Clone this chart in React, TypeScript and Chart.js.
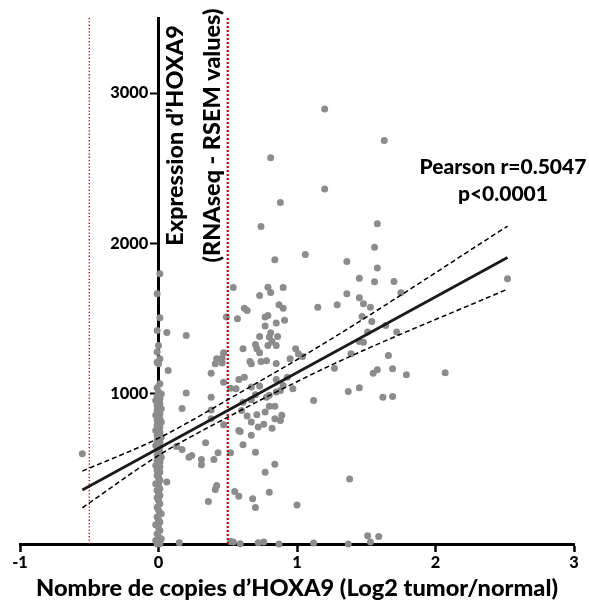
import React, { useEffect, useRef } from 'react';
import { Chart, registerables } from 'chart.js';

Chart.register(...registerables);

// ---------- data ----------
const scatterX = [
  1.20, 1.63, 0.81, 1.20, 0.88, 1.58, 0.74, 1.56, 1.06, 0.84, 1.36, 1.58, 1.45, 1.56, 1.70, 2.52,
  0.54, 0.79, 0.81, 0.73, 0.90, 1.36, 1.45, 1.75, 1.29, 1.48, 1.53, 1.15, 0.87, 0.90, 0.62, 0.64,
  1.47, 1.54, 1.64, 0.49, 0.57, 0.77, 0.79, 0.85, 0.91, 0.77, 1.51, 1.72, 0.81, 0.73, 0.86, 0.80,
  0.82, 1.45, 1.48, 0.79, 0.85, 0.70, 0.71, 0.61, 0.99, 0.73, 1.01, 1.04, 0.95, 1.39, 1.66, 0.47,
  0.46, 0.42, 0.41, 0.46, 0.66, 0.67, 0.74, 0.78, 0.85, 1.27, 1.55, 1.58, 1.69, 1.79, 2.07, 0.38,
  0.47, 0.58, 0.62, 0.85, 0.93, 0.52, 0.56, 0.67, 0.73, 0.90, 0.97, 1.45, 1.37, 1.62, 1.69, 1.12,
  0.20, 0.38, 0.17, 0.38, 0.38, 0.47, 0.61, 0.67, 0.70, 0.78, 0.80, 0.85, 0.88, 0.60, 0.64, 0.71,
  0.77, 0.80, 0.84, 0.84, 0.88, 0.89, 0.67, 0.72, 0.76, 0.82, 0.58, 0.59, 0.67, 0.34, 0.13, 0.17,
  0.61, 0.43, 0.52, 0.70, 0.24, 0.22, 0.40, 0.31, 0.31, 0.84, 0.77, 0.06, 0.42, 0.41, 0.55, 0.58,
  0.80, 0.68, 0.70, 0.36, 1.00, 1.38, 0.15, 0.52, 0.54, 0.59, 0.72, 0.76, 0.87, 1.12, 1.37, 1.51,
  1.59, 1.53, -0.55, 0.20, 0.06, 0.07,
  // column at zero copy-number change
  0.01, -0.01, 0.01, -0.01, 0.00, -0.01, 0.01, -0.01, 0.00, 0.01, -0.01, 0.00, 0.02, -0.01, 0.00, 0.01,
  -0.02, 0.00, 0.01, -0.01, 0.00, 0.02, -0.01, 0.00, 0.01, -0.02, 0.00, 0.01, -0.01, 0.02, 0.00, -0.01,
  0.01, 0.00, -0.02, 0.01, 0.00, -0.01, 0.02, 0.00, -0.01, 0.01, 0.00, -0.02, 0.01, 0.00, -0.01, 0.01,
  0.00, -0.01, 0.02, 0.00, -0.01, 0.01, 0.00, -0.02, 0.01, 0.00, -0.01, 0.01, 0.00, -0.01, 0.00, 0.01,
  -0.02, 0.00, 0.01, -0.01, 0.00, 0.01, -0.01, 0.00, 0.01, -0.01, 0.00, 0.02, -0.01, 0.00, 0.01, -0.02,
  0.00, 0.01, -0.01, 0.00, 0.02, -0.02, 0.00, 0.01, -0.01,
];
const scatterY = [
  2895, 2685, 2570, 2362, 2272, 2131, 2112, 1975, 1927, 1892, 1880, 1836, 1769, 1745, 1747, 1765,
  1707, 1709, 1674, 1654, 1706, 1665, 1639, 1672, 1592, 1599, 1576, 1576, 1592, 1569, 1569, 1554,
  1514, 1481, 1454, 1510, 1499, 1510, 1521, 1470, 1488, 1450, 1410, 1410, 1406, 1381, 1381, 1377,
  1348, 1348, 1343, 1321, 1321, 1328, 1299, 1299, 1299, 1273, 1266, 1248, 1233, 1266, 1255, 1273,
  1237, 1233, 1200, 1204, 1215, 1200, 1215, 1219, 1201, 1170, 1137, 1160, 1166, 1126, 1140, 1137,
  1077, 1095, 1110, 1095, 1110, 1037, 1033, 1044, 1051, 1055, 1033, 1040, 1015, 977, 982, 955,
  1004, 977, 902, 891, 834, 794, 944, 960, 993, 977, 989, 1011, 1022, 889, 851, 860,
  878, 917, 917, 834, 822, 856, 811, 778, 796, 771, 756, 749, 723, 674, 649, 629,
  661, 607, 607, 611, 589, 578, 563, 563, 528, 530, 478, 412, 390, 363, 350, 317,
  345, 301, 243, 283, 259, 432, 9, 17, 13, 2, 9, 13, 0, 6, 0, 55,
  50, 13, 601, 1388, 1408, 1155,
  1798, 1665, 1506, 1421, 1321, 1277, 1233, 1210, 1200, 1066, 1040, 1012, 998, 985, 977, 967,
  955, 944, 933, 922, 911, 900, 889, 878, 867, 856, 844, 833, 822, 811, 800, 789,
  778, 766, 755, 744, 733, 722, 711, 700, 689, 678, 667, 656, 645, 634, 623, 612,
  601, 590, 578, 567, 556, 545, 534, 523, 512, 501, 490, 479, 468, 455, 440, 425,
  401, 390, 368, 357, 340, 323, 307, 290, 268, 245, 224, 202, 179, 160, 146, 128,
  112, 90, 69, 46, 35, 24, 12, 2, 0,
];
const fitX = [-0.55, 2.52];
const fitY = [360, 1907];
const bandX = [-0.55, 0, 0.5, 1.27, 2.52];
const bandUpper = [485, 704, 960, 1377, 2115];
const bandLower = [241, 589, 844, 1200, 1696];
const cutoffLeft = -0.5;
const cutoffRight = 0.5;
const xTicks = [-1, 0, 1, 2, 3];
const yTicks = [1000, 2000, 3000];
const xRange = [-1, 3];
const yRange = [0, 3500];
const xTitle = 'Nombre de copies d’HOXA9 (Log2 tumor/normal)';
const yTitleLines = ['Expression d’HOXA9', '(RNAseq - RSEM values)'];
const statLines = ['Pearson r=0.5047', 'p<0.0001'];

// ---------- style ----------
const FAMILY = "Lato, 'Open Sans', sans-serif";
const POINT_COLOR = '#8c8c8c';

function fitSize(text: string, target: number): number {
  const c = document.createElement('canvas').getContext('2d')!;
  c.font = `900 100px ${FAMILY}`;
  const w = c.measureText(text).width;
  return (100 * target) / w;
}

export default function App() {
  const ref = useRef<HTMLCanvasElement>(null);

  useEffect(() => {
    if (!ref.current) return;
    const xTitleSize = fitSize(xTitle, 522);
    const yTitleSize = fitSize(yTitleLines[1], 254);
    const statSize = fitSize(statLines[0], 167);
    const tickSize = fitSize('3000', 38);

    const textPlugin = {
      id: 'texts',
      afterDraw(chart: any) {
        const { ctx, scales } = chart;
        const sx = scales.x;
        const sy = scales.y;
        ctx.save();
        ctx.fillStyle = '#000';
        ctx.textAlign = 'center';
        ctx.textBaseline = 'middle';
        // rotated y title next to the axis
        ctx.font = `900 ${yTitleSize}px ${FAMILY}`;
        const yPos = [0.126, 0.386];
        yTitleLines.forEach((line, i) => {
          ctx.save();
          ctx.translate(sx.getPixelForValue(yPos[i]), sy.getPixelForValue(2718));
          ctx.rotate(-Math.PI / 2);
          ctx.fillText(line, 0, 0);
          ctx.restore();
        });
        // statistics
        ctx.font = `900 ${statSize}px ${FAMILY}`;
        const sPos = [2506, 2326];
        statLines.forEach((line, i) => {
          ctx.fillText(line, sx.getPixelForValue(2.487), sy.getPixelForValue(sPos[i]));
        });
        ctx.restore();
      },
    };

    const pts = scatterX.map((x, i) => ({ x, y: scatterY[i] }));
    const line = (xs: number[], ys: number[]) => xs.map((x, i) => ({ x, y: ys[i] }));

    const chart = new Chart(ref.current, {
      type: 'scatter',
      data: {
        datasets: [
          {
            data: line(fitX, fitY),
            showLine: true,
            borderColor: '#1a1a1a',
            borderWidth: 2.8,
            pointRadius: 0,
          },
          {
            data: line(bandX, bandUpper),
            showLine: true,
            borderColor: '#000',
            borderWidth: 1.5,
            borderDash: [5, 3],
            pointRadius: 0,
            cubicInterpolationMode: 'monotone',
          },
          {
            data: line(bandX, bandLower),
            showLine: true,
            borderColor: '#000',
            borderWidth: 1.5,
            borderDash: [5, 3],
            pointRadius: 0,
            cubicInterpolationMode: 'monotone',
          },
          {
            data: [{ x: cutoffLeft, y: yRange[0] }, { x: cutoffLeft, y: yRange[1] }],
            showLine: true,
            borderColor: '#8b1a1a',
            borderWidth: 1.3,
            borderDash: [1.3, 2],
            pointRadius: 0,
          },
          {
            data: [{ x: cutoffRight, y: yRange[0] }, { x: cutoffRight, y: yRange[1] }],
            showLine: true,
            borderColor: '#a81010',
            borderWidth: 2.2,
            borderDash: [2, 2],
            pointRadius: 0,
          },
          {
            data: pts,
            backgroundColor: POINT_COLOR,
            borderWidth: 0,
            pointRadius: 3.5,
            clip: false,
          } as any,
        ],
      },
      options: {
        animation: false,
        responsive: false,
        maintainAspectRatio: false,
        layout: { padding: { left: 20, right: 15, top: 18, bottom: 0 } },
        plugins: { legend: { display: false }, tooltip: { enabled: false } },
        scales: {
          x: {
            type: 'linear',
            min: xRange[0],
            max: xRange[1],
            position: 'bottom',
            afterBuildTicks: (s: any) => {
              s.ticks = xTicks.map((v) => ({ value: v }));
            },
            afterFit: (s: any) => {
              s.height = 63;
            },
            grid: {
              display: true,
              drawOnChartArea: false,
              drawTicks: true,
              tickLength: 8,
              tickWidth: 2.5,
              tickColor: '#000',
            },
            border: { display: true, width: 3, color: '#000' },
            ticks: {
              color: '#000',
              font: { family: FAMILY, weight: '900', size: tickSize },
              padding: 1,
              maxRotation: 0,
              autoSkip: false,
              callback: (v: any) => String(v),
            },
            title: {
              display: true,
              text: xTitle,
              color: '#000',
              font: { family: FAMILY, weight: '900', size: xTitleSize },
              padding: { top: 0, bottom: 4 },
            },
          },
          y: {
            type: 'linear',
            min: yRange[0],
            max: yRange[1],
            position: { x: 0 } as any,
            afterBuildTicks: (s: any) => {
              s.ticks = yTicks.map((v) => ({ value: v }));
            },
            grid: {
              display: true,
              drawOnChartArea: false,
              drawTicks: true,
              tickLength: 7,
              tickWidth: 2,
              tickColor: '#000',
            },
            border: { display: true, width: 3, color: '#000' },
            ticks: {
              color: '#000',
              font: { family: FAMILY, weight: '900', size: tickSize },
              padding: 1,
              callback: (v: any) => String(v) + '\u2002\u2009',
            },
          },
        },
      },
      plugins: [textPlugin],
    } as any);

    return () => chart.destroy();
  }, []);

  return (
    <div style={{ position: 'fixed', left: 0, top: 0, width: 589, height: 607, background: '#fff' }}>
      <canvas ref={ref} width={589} height={607} style={{ width: 589, height: 607, display: 'block' }} />
    </div>
  );
}
